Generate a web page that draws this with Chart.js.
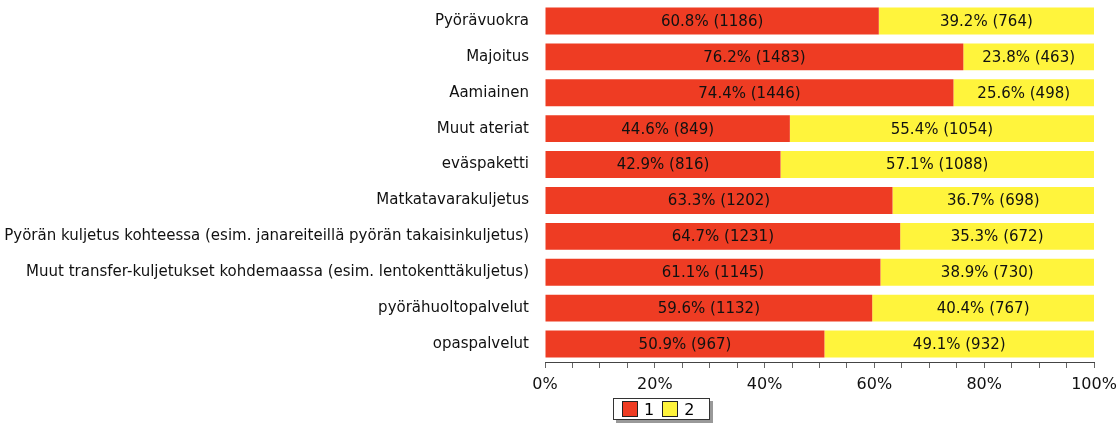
<!DOCTYPE html>
<html>
<head>
<meta charset="utf-8">
<script src="https://cdn.jsdelivr.net/npm/chart.js@4/dist/chart.umd.min.js"></script>
<style>
  body { margin: 0; background: #fff; }
  #wrap { position: relative; width: 1117px; height: 427px; }
  #legend {
    position: absolute; left: 613px; top: 398px; width: 97px; height: 22px;
    border: 1px solid #333; background: #fff; box-shadow: 3px 3px 0 #999;
    font: 16px "DejaVu Sans", sans-serif; color: #000;
    display: flex; align-items: center; padding-left: 8px; box-sizing: border-box; gap: 8px;
  }
  #legend span.box { display: inline-block; width: 14px; height: 14px; border: 1px solid #222; vertical-align: -2px; margin-right: 6px; }
</style>
</head>
<body>
<div id="wrap">
  <canvas id="chart" width="1117" height="427"></canvas>
  <div id="legend"></div>
</div>
<script>
// data
var categories = ["Pyörävuokra", "Majoitus", "Aamiainen", "Muut ateriat", "eväspaketti",
  "Matkatavarakuljetus", "Pyörän kuljetus kohteessa (esim. janareiteillä pyörän takaisinkuljetus)",
  "Muut transfer-kuljetukset kohdemaassa (esim. lentokenttäkuljetus)", "pyörähuoltopalvelut", "opaspalvelut"];
var pct1 = [60.8, 76.2, 74.4, 44.6, 42.9, 63.3, 64.7, 61.1, 59.6, 50.9];
var count1 = [1186, 1483, 1446, 849, 816, 1202, 1231, 1145, 1132, 967];
var pct2 = [39.2, 23.8, 25.6, 55.4, 57.1, 36.7, 35.3, 38.9, 40.4, 49.1];
var count2 = [764, 463, 498, 1054, 1088, 698, 672, 730, 767, 932];
var seriesNames = ["1", "2"];
var tickValues = [0, 20, 40, 60, 80, 100];

var red = "#ee3c23";
var yellow = "#fff43c";
var font = '"DejaVu Sans", sans-serif';

// labels inside each segment
var segmentLabels = {
  id: 'segmentLabels',
  afterDatasetsDraw: function(chart) {
    var ctx = chart.ctx;
    ctx.save();
    ctx.font = '15px ' + font;
    ctx.fillStyle = '#111';
    ctx.textAlign = 'center';
    ctx.textBaseline = 'middle';
    chart.data.datasets.forEach(function(ds, di) {
      chart.getDatasetMeta(di).data.forEach(function(bar, i) {
        var txt = ds.data[i].toFixed(1) + '% (' + ds.counts[i] + ')';
        ctx.fillText(txt, (bar.base + bar.x) / 2, bar.y + 1);
      });
    });
    ctx.restore();
  }
};

var graphicsChart = new Chart(document.getElementById('chart'), {
  type: 'bar',
  data: {
    labels: categories,
    datasets: [
      { label: seriesNames[0], data: pct1, counts: count1, backgroundColor: red,
        categoryPercentage: 1, barPercentage: 0.75 },
      { label: seriesNames[1], data: pct2, counts: count2, backgroundColor: yellow,
        categoryPercentage: 1, barPercentage: 0.75 }
    ]
  },
  options: {
    indexAxis: 'y',
    responsive: false,
    animation: false,
    layout: { padding: { top: 3, right: 23, bottom: 0, left: 0 } },
    plugins: { legend: { display: false }, tooltip: { enabled: false } },
    scales: {
      x: {
        stacked: true, min: 0, max: 100,
        afterFit: function(scale) { scale.height = 65; scale.paddingLeft = 0; scale.paddingRight = 0; },
        afterBuildTicks: function(scale) {
          var t = [];
          for (var v = 0; v <= 100; v += 5) t.push({ value: v });
          scale.ticks = t;
        },
        ticks: {
          autoSkip: false, maxRotation: 0, padding: 7, color: '#111',
          font: { family: font, size: 16 },
          callback: function(v) { return tickValues.indexOf(v) >= 0 ? v + '%' : ''; }
        },
        grid: { drawOnChartArea: false, tickLength: 6, color: '#666' },
        border: { color: '#444' }
      },
      y: {
        stacked: true,
        afterFit: function(scale) { scale.width = 545; scale.paddingTop = 0; scale.paddingBottom = 0; },
        ticks: { padding: 8, color: '#111', font: { family: font, size: 15 } },
        grid: { display: false },
        border: { display: false }
      }
    }
  },
  plugins: [segmentLabels]
});

// legend
var legend = document.getElementById('legend');
[red, yellow].forEach(function(c, i) {
  var item = document.createElement('span');
  item.innerHTML = '<span class="box" style="background:' + c + '"></span>' + seriesNames[i];
  legend.appendChild(item);
});
</script>
</body>
</html>
